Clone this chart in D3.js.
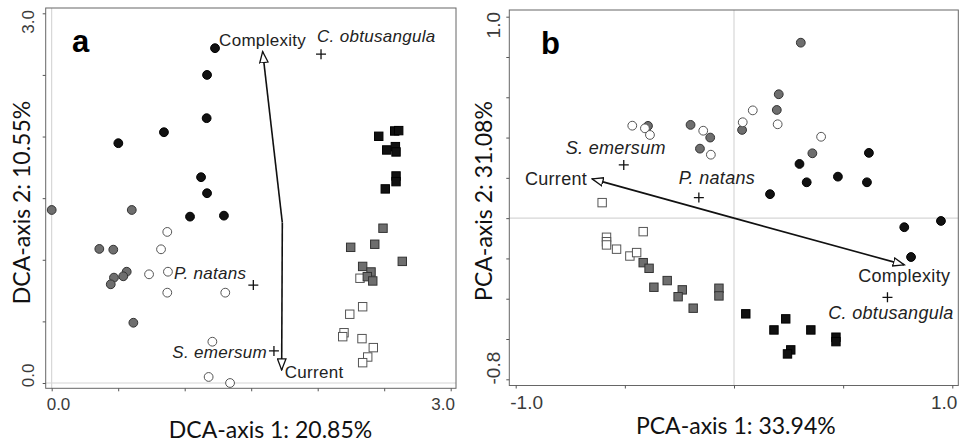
<!DOCTYPE html>
<html>
<head>
<meta charset="utf-8">
<script src="https://cdn.jsdelivr.net/npm/d3@7"></script>
<style>
  body { margin: 0; background: #fff; }
  svg { display: block; }
</style>
</head>
<body>
<div id="chart"></div>
<script>
// ---- panel a: DCA ----
const aBlackCircles = [[1.228,2.717],[1.168,2.50],[1.165,2.149],[0.844,2.035],[0.501,1.946],[1.123,1.670],[1.168,1.540],[1.040,1.350],[1.295,1.358]];
const aGrayCircles = [[0.0,1.404],[0.602,1.404],[0.358,1.088],[0.463,1.082],[0.564,0.903],[0.468,0.855],[0.538,0.866],[0.444,0.801],[0.614,0.489]];
const aOpenCircles = [[0.869,1.226],[0.822,1.085],[0.732,0.882],[0.874,0.903],[0.869,0.733],[1.305,0.733],[1.208,0.335],[1.180,0.049],[1.341,0.0]];
const aBlackSquares = [[2.459,2.002],[2.579,2.045],[2.609,2.048],[2.519,1.891],[2.584,1.918],[2.589,1.875],[2.589,1.680],[2.589,1.634],[2.508,1.575]];
const aGraySquares = [[2.491,1.256],[2.248,1.101],[2.429,1.126],[2.636,0.987],[2.338,0.946],[2.401,0.901],[2.373,0.863],[2.414,0.828]];
const aOpenSquares = [[2.318,0.850],[2.241,0.558],[2.338,0.619],[2.198,0.408],[2.188,0.376],[2.333,0.360],[2.418,0.287],[2.376,0.211],[2.338,0.165]];
const aSpecies = [["C. obtusangula",2.025,2.668],["P. natans",1.516,0.795],["S. emersum",1.671,0.260]];
const aArrows = [["Complexity",1.734,1.301,1.586,2.689],["Current",1.734,1.301,1.729,0.106]];
const aTicks = [0,0.5,1,1.5,2,2.5,3];
const aTickLabels = ["0.0","3.0"];

// ---- panel b: PCA ----
const bGrayCircles = [[0.306,0.871],[0.205,0.615],[0.196,0.537],[-0.394,0.458],[-0.199,0.463],[-0.109,0.400],[-0.156,0.345],[0.037,0.438],[0.359,0.322]];
const bOpenCircles = [[-0.466,0.459],[-0.408,0.446],[-0.385,0.413],[-0.141,0.434],[-0.106,0.315],[0.040,0.476],[0.086,0.535],[0.200,0.466],[0.399,0.404]];
const bBlackCircles = [[0.300,0.269],[0.333,0.178],[0.476,0.206],[0.609,0.178],[0.618,0.324],[0.165,0.119],[0.780,-0.045],[0.948,-0.014],[0.811,-0.193]];
const bOpenSquares = [[-0.604,0.077],[-0.416,-0.067],[-0.584,-0.095],[-0.584,-0.117],[-0.584,-0.133],[-0.538,-0.154],[-0.477,-0.188],[-0.446,-0.171]];
const bGraySquares = [[-0.416,-0.221],[-0.389,-0.249],[-0.306,-0.310],[-0.367,-0.343],[-0.237,-0.356],[-0.256,-0.390],[-0.187,-0.447],[-0.069,-0.348],[-0.069,-0.386]];
const bBlackSquares = [[0.054,-0.475],[0.237,-0.500],[0.183,-0.555],[0.352,-0.555],[0.467,-0.591],[0.467,-0.613],[0.260,-0.654],[0.245,-0.674]];
const bSpecies = [["S. emersum",-0.505,0.264],["P. natans",-0.161,0.102],["C. obtusangula",0.703,-0.393]];
const bArrows = [["Current",0,0,-0.650,0.195],["Complexity",0,0,0.780,-0.232]];
const bXTicks = [-1,-0.5,0,0.5,1];
const bYTicks = [-0.8,-0.6,-0.4,-0.2,0,0.2,0.4,0.6,0.8,1.0];
const bXTickLabels = ["-1.0","1.0"];
const bYTickLabels = ["-0.8","1.0"];

const W = 966, H = 444;
const svg = d3.select("#chart").append("svg").attr("width", W).attr("height", H);

const defs = svg.append("defs");
defs.append("marker")
  .attr("id", "openhead")
  .attr("viewBox", "0 -5 12 10")
  .attr("refX", 11).attr("refY", 0)
  .attr("markerUnits", "userSpaceOnUse")
  .attr("markerWidth", 13).attr("markerHeight", 10)
  .attr("orient", "auto")
  .append("path")
  .attr("d", "M0,-4.2L11,0L0,4.2Z")
  .attr("fill", "#fff").attr("stroke", "#111").attr("stroke-width", 1.3);

const tickFont = "'Liberation Sans', Arial, sans-serif";
const titleFont = "Lato, 'Open Sans', sans-serif";

function drawPanel(p) {
  const g = svg.append("g");
  const x = p.x, y = p.y;
  const f = p.frame;

  // zero reference lines
  g.append("line").attr("x1", x(0)).attr("x2", x(0)).attr("y1", f.top).attr("y2", f.bottom)
    .attr("stroke", "#cfcfcf").attr("stroke-width", 1);
  g.append("line").attr("x1", f.left).attr("x2", f.right).attr("y1", y(0)).attr("y2", y(0))
    .attr("stroke", "#d6d6d6").attr("stroke-width", 1.2);

  // frame
  g.append("rect").attr("x", f.left).attr("y", f.top)
    .attr("width", f.right - f.left).attr("height", f.bottom - f.top)
    .attr("fill", "none").attr("stroke", "#666").attr("stroke-width", 1);

  // ticks
  const xAxis = g.append("g").attr("transform", `translate(0,${f.bottom})`)
    .call(d3.axisBottom(x).tickValues(p.xTicks).tickSize(3).tickFormat(""));
  const yAxis = g.append("g").attr("transform", `translate(${f.left},0)`)
    .call(d3.axisLeft(y).tickValues(p.yTicks).tickSize(3).tickFormat(""));
  [xAxis, yAxis].forEach(a => {
    a.select(".domain").remove();
    a.selectAll(".tick line").attr("stroke", "#555");
  });

  // end tick labels, tucked to the frame corners
  g.append("text").attr("x", f.left + 1).attr("y", p.xLabelBase)
    .attr("text-anchor", "start").text(p.xTickLabels[0]);
  g.append("text").attr("x", f.right - 1).attr("y", p.xLabelBase)
    .attr("text-anchor", "end").text(p.xTickLabels[1]);
  g.append("text").attr("transform", `translate(${p.yLabelBase},${f.bottom - 1}) rotate(-90)`)
    .attr("text-anchor", "start").text(p.yTickLabels[0]);
  g.append("text").attr("transform", `translate(${p.yLabelBase},${f.top + 2}) rotate(-90)`)
    .attr("text-anchor", "end").text(p.yTickLabels[1]);
  g.selectAll("text").attr("font-family", tickFont).attr("font-size", p.tickSize).attr("fill", "#3a3a3a");

  // axis titles
  g.append("text").attr("x", p.xTitleMid).attr("y", p.xTitleBase)
    .attr("text-anchor", "middle").attr("font-family", titleFont).attr("font-size", 23)
    .attr("fill", "#111").text(p.xTitle);
  g.append("text").attr("transform", `translate(${p.yTitleBase},${p.yTitleMid}) rotate(-90)`)
    .attr("text-anchor", "middle").attr("font-family", titleFont).attr("font-size", 23)
    .attr("fill", "#111").text(p.yTitle);

  // panel letter
  g.append("text").attr("x", p.letterPos[0]).attr("y", p.letterPos[1])
    .attr("font-family", "'Liberation Sans', Arial, sans-serif").attr("font-weight", "bold")
    .attr("font-size", 31).attr("fill", "#000").text(p.letter);

  // samples
  const styles = {
    black: { fill: "#111", stroke: "#000" },
    gray: { fill: "#6e6e6e", stroke: "#333" },
    open: { fill: "#fff", stroke: "#555" }
  };
  p.circles.forEach(([data, kind]) => {
    g.append("g").selectAll("circle").data(data).join("circle")
      .attr("cx", d => x(d[0])).attr("cy", d => y(d[1])).attr("r", 4.4)
      .attr("fill", styles[kind].fill).attr("stroke", styles[kind].stroke).attr("stroke-width", 1);
  });
  p.squares.forEach(([data, kind]) => {
    g.append("g").selectAll("rect").data(data).join("rect")
      .attr("x", d => x(d[0]) - 4.2).attr("y", d => y(d[1]) - 4.2).attr("width", 8.4).attr("height", 8.4)
      .attr("fill", styles[kind].fill).attr("stroke", styles[kind].stroke).attr("stroke-width", 1);
  });

  // arrows
  g.append("g").selectAll("line").data(p.arrows).join("line")
    .attr("x1", d => x(d[1])).attr("y1", d => y(d[2]))
    .attr("x2", d => x(d[3])).attr("y2", d => y(d[4]))
    .attr("stroke", "#111").attr("stroke-width", 1.6)
    .attr("marker-end", "url(#openhead)");
  g.append("g").selectAll("text").data(p.arrows).join("text")
    .attr("x", d => x(d[3]) + p.place[d[0]][0]).attr("y", d => y(d[4]) + p.place[d[0]][1])
    .attr("text-anchor", d => p.place[d[0]][2])
    .attr("font-family", tickFont).attr("font-size", p.labelSize).attr("fill", "#222")
    .attr("letter-spacing", 0.3)
    .text(d => d[0]);

  // species crosses
  const sp = g.append("g").selectAll("g").data(p.species).join("g")
    .attr("transform", d => `translate(${x(d[1])},${y(d[2])})`);
  sp.append("path").attr("d", "M-5,0H5M0,-5V5").attr("stroke", "#111").attr("stroke-width", 1.3);
  sp.append("text")
    .attr("x", d => p.place[d[0]][0]).attr("y", d => p.place[d[0]][1])
    .attr("text-anchor", d => p.place[d[0]][2])
    .attr("font-family", tickFont).attr("font-style", "italic")
    .attr("font-size", p.labelSize).attr("fill", "#222").attr("letter-spacing", 0.3)
    .text(d => d[0]);
}

drawPanel({
  x: d3.scaleLinear().domain([0, 3]).range([51.7, 450.7]),
  y: d3.scaleLinear().domain([0, 3]).range([383, 13.3]),
  frame: { left: 45.7, top: 8, right: 456, bottom: 388.3 },
  xTicks: aTicks, yTicks: aTicks,
  xTickLabels: aTickLabels, yTickLabels: aTickLabels,
  xLabelBase: 410, yLabelBase: 34, tickSize: 17,
  xTitle: "DCA-axis 1: 20.85%", yTitle: "DCA-axis 2: 10.55%",
  xTitleMid: 270.5, xTitleBase: 438, yTitleMid: 202.5, yTitleBase: 29.5,
  letter: "a", letterPos: [72, 52],
  labelSize: 17,
  circles: [[aGrayCircles, "gray"], [aOpenCircles, "open"], [aBlackCircles, "black"]],
  squares: [[aOpenSquares, "open"], [aGraySquares, "gray"], [aBlackSquares, "black"]],
  arrows: aArrows, species: aSpecies,
  place: {
    "Complexity": [0, -6, "middle"],
    "Current": [3, 8, "start"],
    "C. obtusangula": [-4, -12, "start"],
    "P. natans": [-7, -6, "end"],
    "S. emersum": [-7, 7, "end"]
  }
});

drawPanel({
  x: d3.scaleLinear().domain([-1, 1]).range([515.7, 952.3]),
  y: d3.scaleLinear().domain([-0.8, 1.0]).range([379.3, 16.7]),
  frame: { left: 509.3, top: 10, right: 958.3, bottom: 385.5 },
  xTicks: bXTicks, yTicks: bYTicks,
  xTickLabels: bXTickLabels, yTickLabels: bYTickLabels,
  xLabelBase: 409, yLabelBase: 499.5, tickSize: 19,
  xTitle: "PCA-axis 1: 33.94%", yTitle: "PCA-axis 2: 31.08%",
  xTitleMid: 735.8, xTitleBase: 434, yTitleMid: 201, yTitleBase: 492,
  letter: "b", letterPos: [541, 54],
  labelSize: 18,
  circles: [[bGrayCircles, "gray"], [bOpenCircles, "open"], [bBlackCircles, "black"]],
  squares: [[bOpenSquares, "open"], [bGraySquares, "gray"], [bBlackSquares, "black"]],
  arrows: bArrows, species: bSpecies,
  place: {
    "Complexity": [0, 17, "middle"],
    "Current": [-5, 6, "end"],
    "C. obtusangula": [3.5, 22, "middle"],
    "P. natans": [18, -14, "middle"],
    "S. emersum": [-8, -11, "middle"]
  }
});
</script>
</body>
</html>
